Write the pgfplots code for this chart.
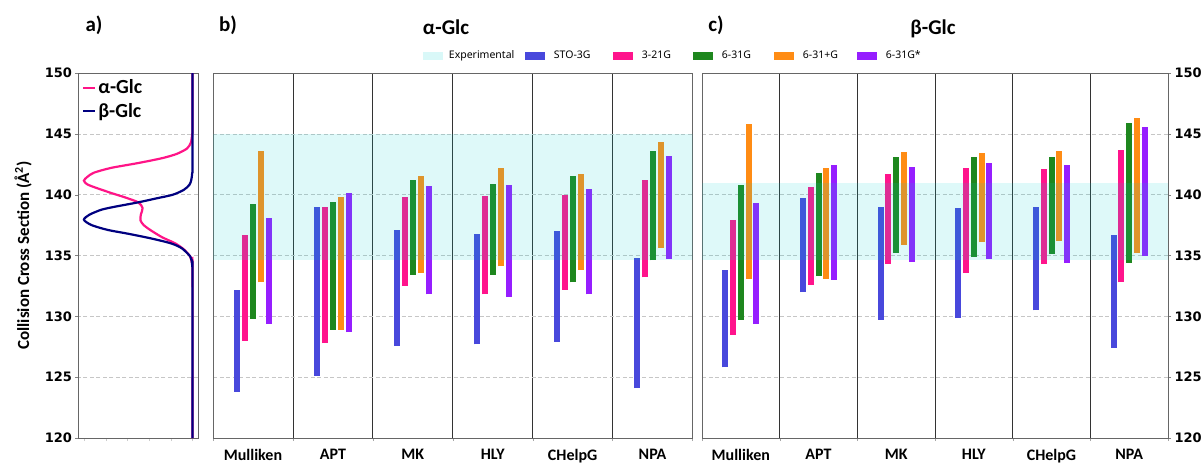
\documentclass[border=0pt]{standalone}
\usepackage{pgfplots}
\pgfplotsset{compat=1.18}
\usepackage{fontspec}
\setmainfont{Carlito}
\newfontfamily\dejavu{DejaVu Sans}
\newfontfamily\notosans{Noto Sans}
\definecolor{cband}{RGB}{0,206,209}
\definecolor{csto}{RGB}{72,72,220}
\definecolor{ctt}{RGB}{255,20,140}
\definecolor{csix}{RGB}{30,135,30}
\definecolor{cplus}{RGB}{255,140,20}
\definecolor{cstar}{RGB}{150,30,255}
\definecolor{calpha}{RGB}{255,20,135}
\definecolor{cbeta}{RGB}{0,0,128}
\pgfplotsset{
  ccsbase/.style={
    scale only axis, height=365pt, ymin=120, ymax=150,
    ytick={120,125,...,150},
    ymajorgrids,
    major grid style={gray!45, dash pattern=on 4pt off 2.5pt, line width=0.6pt},
    axis line style={black!60, line width=0.8pt},
    tick align=outside, major tick length=3pt, minor tick length=3pt,
    xtick pos=bottom,
    /pgf/number format/assume math mode=true,
    yticklabel style={font=\dejavu\bfseries\fontsize{13}{13}\selectfont},
  },
  barsaxis/.style={
    ccsbase,
    xmin=-0.5, xmax=5.5, xtick={0,...,5},
    xticklabels={Mulliken,APT,MK,HLY,CHelpG,NPA},
    xticklabel style={font=\bfseries\fontsize{16}{16}\selectfont, yshift=-5pt},
    every major x tick/.append style={draw=none},
    minor xtick={-0.5,0.5,...,5.5},
    xminorgrids,
    minor grid style={solid, black!80, line width=0.8pt},
    every minor x tick/.append style={black!35},
    unbounded coords=jump,
    legend image code/.code={\fill[#1, draw=none] (0pt,-4pt) rectangle (20pt,4pt); \path (23.5pt,0pt);},
  },
  bar/.style={line width=6pt, line cap=butt, mark=none, sharp plot},
}
\begin{document}
\begin{tikzpicture}
\useasboundingbox (0,0) rectangle (1203pt,464pt);

% ---------------- panel a ----------------
\begin{axis}[ccsbase,
  at={(78.5pt,26pt)}, anchor=south west, width=119.5pt,
  x dir=reverse, xmin=-0.05, xmax=1.05,
  xtick={0,0.2,0.4,0.6,0.8,1.0}, xticklabels={},
  every major x tick/.append style={gray!40},
  ytick pos=left,
  ylabel={Collision Cross Section (Å\textsuperscript{2})},
  every axis y label/.style={at={(axis description cs:-0.464,0.5)}, rotate=90, anchor=center, font=\bfseries\fontsize{17}{17}\selectfont},
  legend style={at={(0.02,0.99)}, anchor=north west, draw=none, fill=none,
    font=\bfseries\fontsize{20}{20}\selectfont, row sep=4pt, inner sep=1pt},
  legend cell align=left,
  legend image code/.code={\draw[#1] (0pt,0pt) -- (12pt,0pt);},
]
\addplot[calpha, line width=2.2pt, smooth, tension=0.45] coordinates {
(0,120) (0,133.8) (0.008,134.5) (0.02,134.9) (0.08,135.5) (0.16,136.0) (0.28,136.5)
(0.39,137.1) (0.45,137.5) (0.48,137.9) (0.475,138.4) (0.46,138.9) (0.50,139.37)
(0.63,139.8) (0.75,140.14) (0.90,140.6) (0.97,140.85) (1.0,141.15) (0.97,141.45)
(0.91,141.8) (0.75,142.2) (0.50,142.6) (0.28,143.0) (0.146,143.35) (0.05,143.8)
(0.015,144.3) (0.003,145) (0,145.5) (0,150)};
\addlegendentry{α-Glc}
\addplot[cbeta, line width=2.2pt, smooth, tension=0.45] coordinates {
(0,120) (0,133.5) (0.005,134.3) (0.02,134.9) (0.10,135.6) (0.20,136.0) (0.38,136.4)
(0.60,136.8) (0.78,137.1) (0.93,137.5) (1.0,137.94) (0.95,138.35) (0.84,138.76)
(0.72,139.0) (0.50,139.37) (0.33,139.7) (0.18,140.0) (0.08,140.4) (0.03,140.8)
(0.012,141.2) (0.003,141.8) (0,142.5) (0,150)};
\addlegendentry{β-Glc}
\end{axis}

% ---------------- panel b ----------------
\begin{axis}[barsaxis,
  at={(213pt,26pt)}, anchor=south west, width=479.5pt,
  yticklabels={}, every major y tick/.append style={draw=none},
  legend style={at={(0.438,1.0474)}, anchor=west, draw=none, fill=none, inner sep=0pt,
    font=\notosans\fontsize{10.5}{10.5}\selectfont, legend columns=6,
    /tikz/every even column/.append style={column sep=0pt}},
  legend cell align=left,
]
\addlegendimage{fill=cband, fill opacity=0.15}
\addlegendentry{\makebox[74.5pt][l]{Experimental}}
\addplot[bar, csto] coordinates {(-0.2,123.8) (-0.2,132.2) (-0.2,nan) (0.8,125.1) (0.8,139.0) (0.8,nan) (1.8,127.6) (1.8,137.1) (1.8,nan) (2.8,127.7) (2.8,136.8) (2.8,nan) (3.8,127.9) (3.8,137.0) (3.8,nan) (4.8,124.1) (4.8,134.8)};
\addlegendentry{\makebox[57.5pt][l]{STO-3G}}
\addplot[bar, ctt] coordinates {(-0.1,128.0) (-0.1,136.7) (-0.1,nan) (0.9,127.8) (0.9,139.0) (0.9,nan) (1.9,132.5) (1.9,139.8) (1.9,nan) (2.9,131.8) (2.9,139.9) (2.9,nan) (3.9,132.2) (3.9,140.0) (3.9,nan) (4.9,133.2) (4.9,141.2)};
\addlegendentry{\makebox[49.5pt][l]{3-21G}}
\addplot[bar, csix] coordinates {(0,129.8) (0,139.2) (0,nan) (1,128.9) (1,139.4) (1,nan) (2,133.4) (2,141.2) (2,nan) (3,133.4) (3,140.9) (3,nan) (4,132.8) (4,141.5) (4,nan) (5,134.6) (5,143.6)};
\addlegendentry{\makebox[50.5pt][l]{6-31G}}
\addplot[bar, cplus] coordinates {(0.1,132.8) (0.1,143.6) (0.1,nan) (1.1,128.9) (1.1,139.8) (1.1,nan) (2.1,133.6) (2.1,141.5) (2.1,nan) (3.1,134.1) (3.1,142.2) (3.1,nan) (4.1,133.8) (4.1,141.7) (4.1,nan) (5.1,135.6) (5.1,144.3)};
\addlegendentry{\makebox[52.5pt][l]{6-31+G}}
\addplot[bar, cstar] coordinates {(0.2,129.4) (0.2,138.1) (0.2,nan) (1.2,128.7) (1.2,140.1) (1.2,nan) (2.2,131.8) (2.2,140.7) (2.2,nan) (3.2,131.6) (3.2,140.8) (3.2,nan) (4.2,131.8) (4.2,140.5) (4.2,nan) (5.2,134.7) (5.2,143.2)};
\addlegendentry{6-31G*}
\addplot[draw=none, fill=cband, fill opacity=0.13, forget plot] coordinates {(-0.5,134.6) (5.5,134.6) (5.5,145.0) (-0.5,145.0)};
\end{axis}

% ---------------- panel c ----------------
\begin{axis}[barsaxis,
  at={(702pt,26pt)}, anchor=south west, width=466pt,
  ytick pos=right, yticklabel pos=right,
]
\addplot[bar, csto] coordinates {(-0.2,125.8) (-0.2,133.8) (-0.2,nan) (0.8,132.0) (0.8,139.7) (0.8,nan) (1.8,129.7) (1.8,139.0) (1.8,nan) (2.8,129.9) (2.8,138.9) (2.8,nan) (3.8,130.5) (3.8,139.0) (3.8,nan) (4.8,127.4) (4.8,136.7)};
\addplot[bar, ctt] coordinates {(-0.1,128.5) (-0.1,137.9) (-0.1,nan) (0.9,132.6) (0.9,140.6) (0.9,nan) (1.9,134.3) (1.9,141.7) (1.9,nan) (2.9,133.6) (2.9,142.2) (2.9,nan) (3.9,134.3) (3.9,142.1) (3.9,nan) (4.9,132.8) (4.9,143.7)};
\addplot[bar, csix] coordinates {(0,129.7) (0,140.8) (0,nan) (1,133.3) (1,141.8) (1,nan) (2,135.2) (2,143.1) (2,nan) (3,134.9) (3,143.1) (3,nan) (4,135.1) (4,143.1) (4,nan) (5,134.4) (5,145.9)};
\addplot[bar, cplus] coordinates {(0.1,133.1) (0.1,145.8) (0.1,nan) (1.1,133.1) (1.1,142.2) (1.1,nan) (2.1,135.9) (2.1,143.5) (2.1,nan) (3.1,136.1) (3.1,143.4) (3.1,nan) (4.1,136.2) (4.1,143.6) (4.1,nan) (5.1,135.2) (5.1,146.3)};
\addplot[bar, cstar] coordinates {(0.2,129.4) (0.2,139.3) (0.2,nan) (1.2,133.0) (1.2,142.4) (1.2,nan) (2.2,134.5) (2.2,142.3) (2.2,nan) (3.2,134.7) (3.2,142.6) (3.2,nan) (4.2,134.4) (4.2,142.4) (4.2,nan) (5.2,135.0) (5.2,145.6)};
\addplot[draw=none, fill=cband, fill opacity=0.13, forget plot] coordinates {(-0.5,134.6) (5.5,134.6) (5.5,141.0) (-0.5,141.0)};
\end{axis}

% ---------------- titles ----------------
\node[anchor=base, font=\bfseries\fontsize{21}{21}\selectfont] at (94pt,432pt) {a)};
\node[anchor=base, font=\bfseries\fontsize{21}{21}\selectfont] at (228pt,432pt) {b)};
\node[anchor=base, font=\bfseries\fontsize{21}{21}\selectfont] at (716pt,432pt) {c)};
\node[anchor=base, font=\bfseries\fontsize{21}{21}\selectfont] at (446pt,429pt) {α-Glc};
\node[anchor=base, font=\bfseries\fontsize{21}{21}\selectfont] at (933pt,429pt) {β-Glc};
\end{tikzpicture}
\end{document}
